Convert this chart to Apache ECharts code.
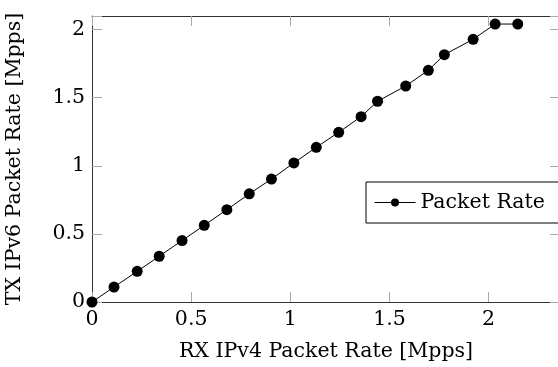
<!DOCTYPE html>
<html>
<head>
<meta charset="utf-8">
<script src="https://cdn.jsdelivr.net/npm/echarts@6/dist/echarts.min.js"></script>
<style>
  html, body { margin: 0; padding: 0; overflow: hidden; background: #fff; }
  #chart { width: 580px; height: 367px; }
</style>
</head>
<body>
<div id="chart"></div>
<script>
// RX IPv4 rate vs TX IPv6 rate (Mpps)
var rxRate = [0, 0.111, 0.228, 0.339, 0.454, 0.566, 0.680, 0.793, 0.905, 1.018,
  1.131, 1.244, 1.357, 1.440, 1.582, 1.696, 1.777, 1.922, 2.033, 2.147]
var txRate = [0, 0.110, 0.225, 0.336, 0.451, 0.563, 0.678, 0.794, 0.903, 1.021,
  1.136, 1.246, 1.361, 1.474, 1.586, 1.701, 1.816, 1.929, 2.041, 2.041]
var seriesName = 'Packet Rate'

var font = 'DejaVu Serif'
var fontSize = 20.5

function tickLabel(v) {
  return Math.abs(v * 2 - Math.round(v * 2)) < 1e-6 ? String(v) : ''
}

function makeAxis(opts) {
  return Object.assign({
    type: 'value',
    interval: 0.5,
    min: 0,
    axisLine: { show: true, onZero: false, lineStyle: { color: '#333', width: 1 } },
    axisTick: { show: true, inside: true, length: 10, lineStyle: { color: '#aaa', width: 1 } },
    splitLine: { show: false },
    axisLabel: { show: false }
  }, opts)
}

var chart = echarts.init(document.getElementById('chart'))
chart.setOption({
  animation: false,
  // plot box runs slightly past the right edge of the window, as in the reference
  grid: { left: 92, right: 20, top: 16, bottom: 65, outerBoundsMode: 'none', containLabel: false },
  legend: {
    left: 366,
    top: 182,
    orient: 'horizontal',
    data: [seriesName],
    borderColor: '#000',
    borderWidth: 1,
    padding: [10, 28, 10, 8],
    itemWidth: 41,
    itemHeight: 10,
    itemGap: 6,
    lineStyle: { width: 1 },
    textStyle: { fontFamily: font, fontSize: fontSize, color: '#000', lineHeight: 20 }
  },
  xAxis: [
    makeAxis({
      max: 2.36,
      name: 'RX IPv4 Packet Rate [Mpps]',
      nameLocation: 'middle',
      nameGap: 39,
      nameTextStyle: { fontFamily: font, fontSize: fontSize, color: '#000' },
      axisLabel: {
        show: true, margin: 7, color: '#000',
        fontFamily: font, fontSize: fontSize, formatter: tickLabel
      }
    }),
    makeAxis({ max: 2.36, position: 'top' })
  ],
  yAxis: [
    makeAxis({
      max: 2.1,
      name: 'TX IPv6 Packet Rate [Mpps]',
      nameLocation: 'middle',
      nameGap: 67,
      nameTextStyle: { fontFamily: font, fontSize: fontSize, color: '#000' },
      axisLabel: {
        show: true, margin: 7, color: '#000',
        fontFamily: font, fontSize: fontSize, formatter: tickLabel
      }
    }),
    makeAxis({ max: 2.1, position: 'right' })
  ],
  series: [
    {
      name: seriesName,
      type: 'line',
      xAxisIndex: 0,
      yAxisIndex: 0,
      data: rxRate.map(function (x, i) { return [x, txRate[i]] }),
      symbol: 'circle',
      symbolSize: 11,
      showSymbol: true,
      lineStyle: { color: '#000', width: 1 },
      itemStyle: { color: '#000' }
    }
  ]
})
</script>
</body>
</html>
